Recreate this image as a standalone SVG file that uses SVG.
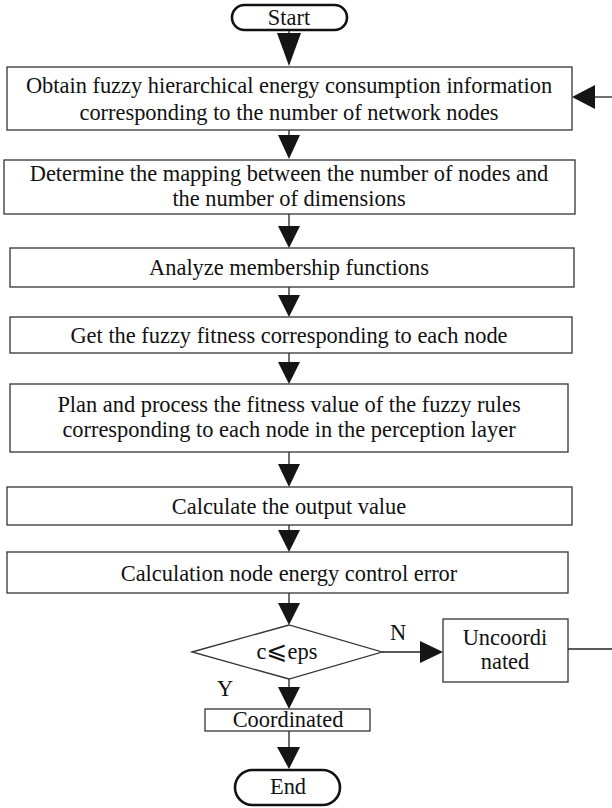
<svg xmlns="http://www.w3.org/2000/svg" width="612" height="808" viewBox="0 0 612 808">
<style>
.box{fill:#fff;stroke:#333;stroke-width:1.3}
.pill{fill:#fff;stroke:#111;stroke-width:2.6}
.t{font-family:"Liberation Serif","Times New Roman",serif;font-size:22.4px;fill:#111;text-anchor:middle}
.ln{stroke:#222;stroke-width:1.3;fill:none}
.ah{fill:#151515;stroke:none}
</style>
<rect width="612" height="808" fill="#fff"/>
<g id="connectors">
<line class="ln" x1="289" y1="30" x2="289" y2="34"/><polygon class="ah" points="277,33 301,33 289,66"/>
<line class="ln" x1="289" y1="130" x2="289" y2="136"/><polygon class="ah" points="278,135 300,135 289,159"/>
<line class="ln" x1="289" y1="214" x2="289" y2="227"/><polygon class="ah" points="278,226 300,226 289,248"/>
<line class="ln" x1="289" y1="287" x2="289" y2="296"/><polygon class="ah" points="278,295 300,295 289,317"/>
<line class="ln" x1="289" y1="353" x2="289" y2="363"/><polygon class="ah" points="278,362 300,362 289,384"/>
<line class="ln" x1="289" y1="452" x2="289" y2="465"/><polygon class="ah" points="278,464 300,464 289,487"/>
<line class="ln" x1="289" y1="525" x2="289" y2="531"/><polygon class="ah" points="278,530 300,530 289,552"/>
<line class="ln" x1="289" y1="593" x2="289" y2="604"/><polygon class="ah" points="278,603 300,603 289,625"/>
<line class="ln" x1="289" y1="679" x2="289" y2="688"/><polygon class="ah" points="278,687 300,687 289,709"/>
<line class="ln" x1="289" y1="731" x2="289" y2="748"/><polygon class="ah" points="277,747 300,747 289,769"/>
<line class="ln" x1="382" y1="652" x2="421" y2="652"/><polygon class="ah" points="420,641 420,663 443,652"/>
<line class="ln" x1="568" y1="649" x2="612" y2="649"/>
<line class="ln" x1="595" y1="97" x2="612" y2="97"/><polygon class="ah" points="595,85 595,109 572,97"/>
<text class="t" x="398" y="640">N</text>
<text class="t" x="225" y="696">Y</text>
</g>
<g id="start"><rect class="pill" x="232" y="5" width="115" height="25" rx="12.5"/><text class="t" x="289" y="25">Start</text></g>
<g id="n1"><rect class="box" x="7" y="67" width="565" height="63"/><text class="t" x="289" y="93">Obtain fuzzy hierarchical energy consumption information</text><text class="t" x="289" y="120">corresponding to the number of network nodes</text></g>
<g id="n2"><rect class="box" x="4" y="160" width="571" height="54"/><text class="t" x="289" y="181">Determine the mapping between the number of nodes and</text><text class="t" x="289" y="206">the number of dimensions</text></g>
<g id="n3"><rect class="box" x="10" y="248" width="564" height="39"/><text class="t" x="289" y="275">Analyze membership functions</text></g>
<g id="n4"><rect class="box" x="10" y="317" width="562" height="36"/><text class="t" x="289" y="343">Get the fuzzy fitness corresponding to each node</text></g>
<g id="n5"><rect class="box" x="10" y="384" width="558" height="68"/><text class="t" x="289" y="412">Plan and process the fitness value of the fuzzy rules</text><text class="t" x="289" y="437">corresponding to each node in the perception layer</text></g>
<g id="n6"><rect class="box" x="7" y="487" width="565" height="38"/><text class="t" x="289" y="514">Calculate the output value</text></g>
<g id="n7"><rect class="box" x="7" y="552" width="561" height="41"/><text class="t" x="289" y="581">Calculation node energy control error</text></g>
<g id="d1"><polygon class="box" points="192,652 289,625 382,652 289,679"/><text class="t" x="287" y="659">c<tspan font-family="DejaVu Sans, sans-serif" font-size="25">⩽</tspan>eps</text></g>
<g id="n8"><rect class="box" x="443" y="619" width="125" height="63"/><text class="t" x="505" y="645">Uncoordi</text><text class="t" x="505" y="669">nated</text></g>
<g id="n9"><rect class="box" x="205" y="709" width="165" height="22"/><text class="t" x="288" y="727">Coordinated</text></g>
<g id="end"><rect class="pill" x="235" y="770" width="105" height="35" rx="17.5"/><text class="t" x="288" y="794">End</text></g>
</svg>
